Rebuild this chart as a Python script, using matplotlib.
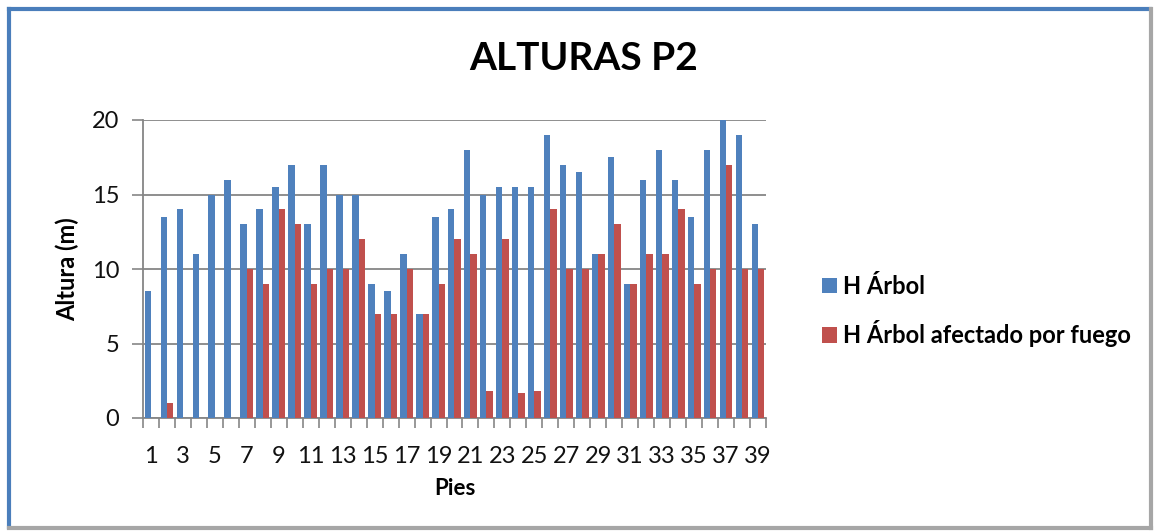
import matplotlib.pyplot as plt
from matplotlib.lines import Line2D
import numpy as np

plt.rcParams['font.family'] = ['Lato', 'DejaVu Sans']

# data
pies = list(range(1, 40))
h_arbol = [8.5, 13.5, 14, 11, 15, 16, 13, 14, 15.5, 17,
           13, 17, 15, 15, 9, 8.5, 11, 7, 13.5, 14,
           18, 15, 15.5, 15.5, 15.5, 19, 17, 16.5, 11, 17.5,
           9, 16, 18, 16, 13.5, 18, 20, 19, 13]
h_fuego = [0, 1, 0, 0, 0, 0, 10, 9, 14, 13,
           9, 10, 10, 12, 7, 7, 10, 7, 9, 12,
           11, 1.8, 12, 1.7, 1.8, 14, 10, 10, 11, 13,
           9, 11, 11, 14, 9, 10, 17, 10, 10]
y_ticks = [0, 5, 10, 15, 20]

blue = '#4F81BD'
red = '#C0504D'
grey = '#868686'

fig = plt.figure(figsize=(11.54, 5.32), dpi=100)
ax = fig.add_axes([143/1154, 1 - 418/532, (766-143)/1154, (418-120)/532])

x = np.arange(len(pies))
w = 0.4
ax.bar(x - w/2, h_arbol, w, color=blue, label='H Árbol', zorder=3)
ax.bar(x + w/2, h_fuego, w, color=red, label='H Árbol afectado por fuego', zorder=3)

ax.set_xlim(-0.5, len(pies) - 0.5)
ax.set_ylim(0, 20)

# y axis
ax.set_yticks(y_ticks)
ax.set_yticklabels([str(v) for v in y_ticks], fontsize=17, color='#111111')
ax.yaxis.grid(True, color=grey, linewidth=1.3, zorder=0)
ax.tick_params(axis='y', direction='out', length=8, color=grey, width=1.2, pad=9)

# x axis: labels on every other category, tick marks between categories
ax.set_xticks(x[::2])
ax.set_xticklabels([str(p) for p in pies[::2]], fontsize=17, color='#111111')
ax.set_xticks(np.arange(-0.5, len(pies)), minor=True)
ax.tick_params(axis='x', which='major', length=0, pad=20)
ax.tick_params(axis='x', which='minor', direction='out', length=7, color=grey, width=1.2)

for s in ['top', 'right']:
    ax.spines[s].set_visible(False)
for s in ['left', 'bottom']:
    ax.spines[s].set_color(grey)
    ax.spines[s].set_linewidth(1.3)

ax.set_ylabel('Altura (m)', fontsize=17, fontweight='bold', labelpad=9)
ax.set_xlabel('Pies', fontsize=16, fontweight='bold', labelpad=8)

fig.text(584/1154, 1 - 58/532, 'ALTURAS P2', fontsize=28, fontweight='bold',
         ha='center', va='center')

leg = ax.legend(loc='center left', bbox_to_anchor=(822/1154, 1 - 311/532),
                bbox_transform=fig.transFigure, frameon=False,
                prop={'size': 17, 'weight': 'bold'},
                handlelength=0.65, handleheight=0.65, handletextpad=0.25,
                labelspacing=0.95, borderpad=0, borderaxespad=0)

# chart frame: blue left/top, grey shadow right/bottom
fw, fh = 1154, 532
fig.add_artist(Line2D([9/fw, 9/fw], [1 - 9/fh, 1 - 527/fh], color='#4A7EBB', linewidth=3))
fig.add_artist(Line2D([9/fw, 1150/fw], [1 - 9/fh, 1 - 9/fh], color='#4A7EBB', linewidth=3))
fig.add_artist(Line2D([1151/fw, 1151/fw], [1 - 9/fh, 1 - 528/fh], color='#A6A6A6', linewidth=3))
fig.add_artist(Line2D([9/fw, 1151/fw], [1 - 528/fh, 1 - 528/fh], color='#A6A6A6', linewidth=3))

fig.savefig('out.png', dpi=100)
